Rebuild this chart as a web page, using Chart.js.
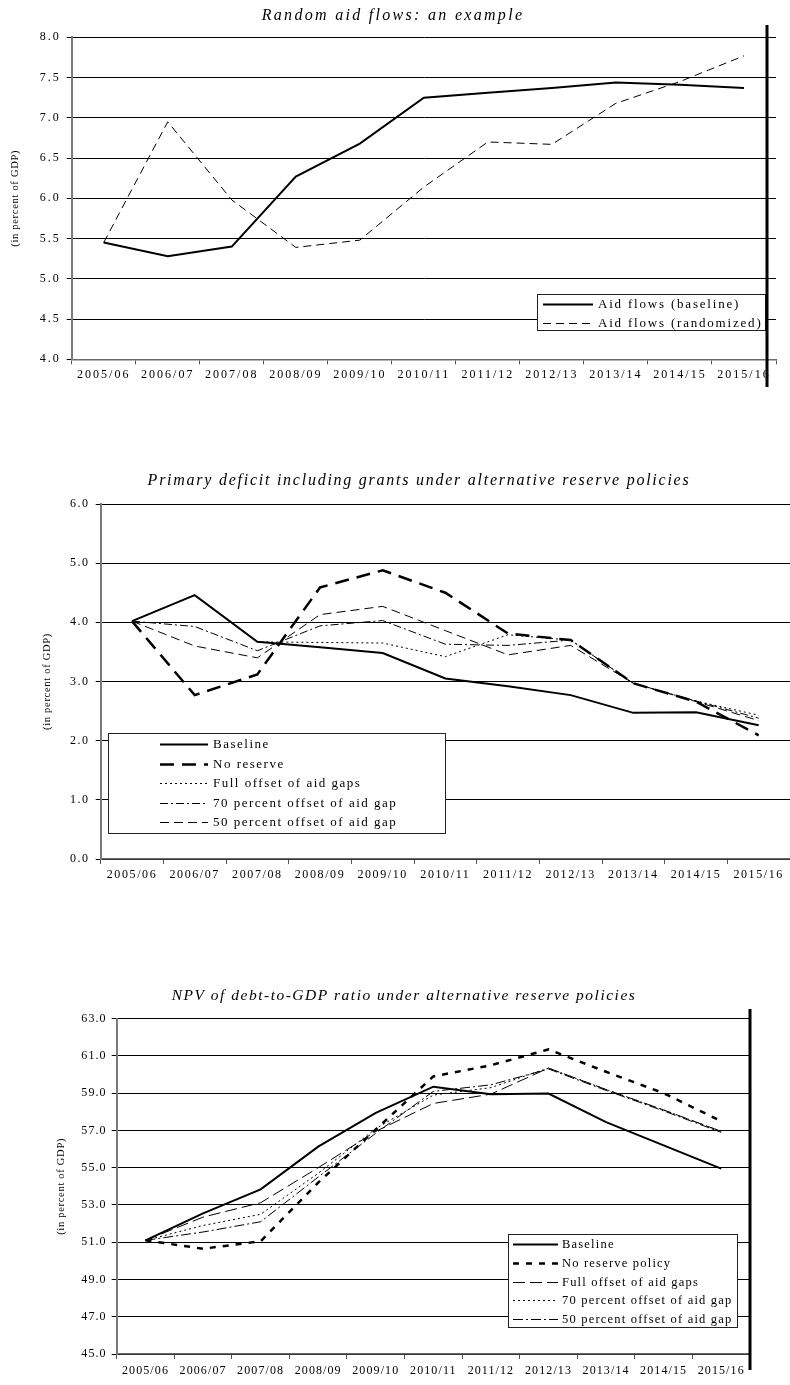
<!DOCTYPE html>
<html>
<head>
<meta charset="utf-8">
<title>Aid flows, primary deficit and debt under alternative reserve policies</title>
<script src="https://cdn.jsdelivr.net/npm/chart.js@4.4.1/dist/chart.umd.min.js"></script>
<style>
  html, body { margin: 0; padding: 0; background: #fff; }
  .panel { position: absolute; left: 0; width: 790px; }
  .panel canvas { display: block; }
</style>
</head>
<body>
<div class="panel" style="top:0;height:400px"><canvas id="aidChart" width="790" height="400"></canvas></div>
<div class="panel" style="top:440px;height:450px"><canvas id="deficitChart" width="790" height="450"></canvas></div>
<div class="panel" style="top:960px;height:425px"><canvas id="debtChart" width="790" height="425"></canvas></div>

<script>
// Fiscal years on the horizontal axis
const periods = ['2005/06', '2006/07', '2007/08', '2008/09', '2009/10', '2010/11',
                 '2011/12', '2012/13', '2013/14', '2014/15', '2015/16'];

// Aid flows, in percent of GDP
const aidBaseline   = [5.45, 5.28, 5.40, 6.27, 6.68, 7.25, 7.31, 7.37, 7.44, 7.41, 7.37];
const aidRandomized = [5.45, 6.95, 5.98, 5.39, 5.48, 6.14, 6.70, 6.67, 7.18, 7.45, 7.77];

// Primary deficit including grants, in percent of GDP
const deficitBaseline  = [4.02, 4.46, 3.67, 3.58, 3.48, 3.05, 2.92, 2.77, 2.47, 2.48, 2.26];
const deficitNoReserve = [4.02, 2.77, 3.12, 4.59, 4.88, 4.50, 3.81, 3.70, 2.97, 2.66, 2.09];
const deficitFull      = [4.02, 4.46, 3.67, 3.66, 3.65, 3.42, 3.79, 3.70, 2.97, 2.67, 2.43];
const deficit70        = [4.02, 3.93, 3.52, 3.94, 4.03, 3.63, 3.61, 3.70, 2.97, 2.67, 2.38];
const deficit50        = [4.02, 3.60, 3.40, 4.13, 4.27, 3.86, 3.45, 3.61, 2.97, 2.66, 2.34];

// NPV of debt-to-GDP ratio, in percent
const debtBaseline  = [51.1, 52.55, 53.84, 56.13, 57.95, 59.35, 58.94, 58.98, 57.45, 56.20, 54.95];
const debtNoReserve = [51.1, 50.65, 51.05, 54.20, 57.05, 59.90, 60.50, 61.35, 60.15, 59.00, 57.50];
const debtFull      = [51.1, 52.35, 53.12, 55.00, 56.95, 58.45, 58.95, 60.35, 59.20, 58.10, 56.95];
const debt70        = [51.1, 51.90, 52.50, 54.70, 57.10, 58.90, 59.30, 60.35, 59.20, 58.10, 56.95];
const debt50        = [51.1, 51.55, 52.10, 54.50, 56.85, 59.10, 59.45, 60.30, 59.15, 58.05, 56.90];

// Axis ranges
const aidAxis     = { min: 4, max: 8, step: 0.5 };
const deficitAxis = { min: 0, max: 6, step: 1 };
const debtAxis    = { min: 45, max: 63, step: 2 };

const yAxisTitle = '(in percent of GDP)';

Chart.defaults.font.family = "'Liberation Serif', 'Times New Roman', serif";
Chart.defaults.color = '#000';

function series(label, data, width, dash) {
  return {
    label, data,
    borderColor: '#000',
    backgroundColor: '#000',
    borderWidth: width,
    borderDash: dash,
    borderCapStyle: 'butt',
    borderJoinStyle: 'miter',
    pointRadius: 0,
    pointHoverRadius: 0,
    fill: false,
    tension: 0
  };
}

// Heading, rotated axis caption, boxed key and the heavy vertical rule
function framePlugin(f) {
  return {
    id: 'frame',
    beforeDraw(chart) {
      chart.ctx.letterSpacing = f.tickSpacing + 'px';
    },
    afterDatasetsDraw(chart) {
      const ctx = chart.ctx;
      const k = f.key;
      ctx.save();
      ctx.fillStyle = '#fff';
      ctx.fillRect(k.left, k.top, k.right - k.left, k.bottom - k.top);
      ctx.strokeStyle = '#222';
      ctx.lineWidth = 1;
      ctx.setLineDash([]);
      ctx.strokeRect(Math.round(k.left) + 0.5, Math.round(k.top) + 0.5,
                     Math.round(k.right - k.left), Math.round(k.bottom - k.top));
      ctx.font = k.font;
      ctx.letterSpacing = k.spacing + 'px';
      ctx.textAlign = 'left';
      ctx.textBaseline = 'middle';
      chart.data.datasets.forEach((ds, i) => {
        const y = Math.round(k.firstRow + i * k.rowGap) + 0.5;
        ctx.beginPath();
        ctx.setLineDash(ds.borderDash || []);
        ctx.lineWidth = ds.borderWidth;
        ctx.strokeStyle = ds.borderColor;
        ctx.moveTo(k.lineFrom, y);
        ctx.lineTo(k.lineTo, y);
        ctx.stroke();
        ctx.setLineDash([]);
        ctx.fillStyle = '#000';
        ctx.fillText(ds.label, k.textX, y);
      });
      ctx.restore();
    },
    afterDraw(chart) {
      const ctx = chart.ctx;
      const area = chart.chartArea;
      ctx.save();
      ctx.fillStyle = '#000';
      ctx.font = f.heading.font;
      ctx.letterSpacing = f.heading.spacing + 'px';
      ctx.textAlign = 'center';
      ctx.textBaseline = 'alphabetic';
      ctx.fillText(f.heading.text, f.heading.x, f.heading.y);
      ctx.restore();

      ctx.save();
      ctx.fillStyle = '#000';
      ctx.translate(f.side.x, (area.top + area.bottom) / 2);
      ctx.rotate(-Math.PI / 2);
      ctx.font = f.side.font;
      ctx.letterSpacing = f.side.spacing + 'px';
      ctx.textAlign = 'center';
      ctx.textBaseline = 'middle';
      ctx.fillText(yAxisTitle, 0, 0);
      ctx.restore();

      if (f.rule) {
        ctx.save();
        ctx.strokeStyle = '#000';
        ctx.lineWidth = f.rule.width;
        ctx.beginPath();
        ctx.moveTo(f.rule.x, f.rule.top);
        ctx.lineTo(f.rule.x, f.rule.bottom);
        ctx.stroke();
        ctx.restore();
      }
    }
  };
}

function buildPanel(id, spec) {
  return new Chart(document.getElementById(id), {
    type: 'line',
    data: { labels: periods, datasets: spec.datasets },
    options: {
      responsive: false,
      animation: false,
      events: [],
      layout: { padding: spec.padding },
      plugins: {
        legend: { display: false },
        title: { display: false },
        tooltip: { enabled: false }
      },
      scales: {
        x: {
          type: 'category',
          offset: true,
          grid: { offset: true, drawOnChartArea: false, drawTicks: true, tickLength: 5, color: '#555', lineWidth: 1 },
          border: { color: '#6a6a6a', width: 1.5 },
          ticks: { autoSkip: false, maxRotation: 0, minRotation: 0, padding: spec.xPad, font: { size: 12 }, color: '#000' },
          afterFit(scale) { scale.height = spec.xHeight; }
        },
        y: {
          min: spec.axis.min,
          max: spec.axis.max,
          grid: { color: '#000', lineWidth: 1, drawTicks: true, tickLength: 5 },
          border: { color: '#7a7a7a', width: 2 },
          ticks: {
            stepSize: spec.axis.step,
            padding: spec.yPad,
            font: { size: 12 },
            color: '#000',
            callback: v => Number(v).toFixed(1)
          },
          afterFit(scale) { scale.width = spec.yWidth; }
        }
      }
    },
    plugins: [framePlugin(spec.frame)]
  });
}

buildPanel('aidChart', {
  axis: aidAxis,
  datasets: [
    series('Aid flows (baseline)', aidBaseline, 2, []),
    series('Aid flows (randomized)', aidRandomized, 1, [8, 5])
  ],
  padding: { left: 0, right: 14, top: 37.3, bottom: 15.7 },
  yWidth: 71.7, xHeight: 25, xPad: 3.5, yPad: 6,
  frame: {
    tickSpacing: 2.0,
    heading: { text: 'Random aid flows: an example', x: 393, y: 20, font: 'italic 16px "Liberation Serif", serif', spacing: 2.3 },
    side: { x: 15, font: '10.5px "Liberation Serif", serif', spacing: 0.7 },
    key: { left: 537, top: 294, right: 765, bottom: 330, firstRow: 304.3, rowGap: 18.4,
           lineFrom: 543, lineTo: 593, textX: 598, font: '13px "Liberation Serif", serif', spacing: 1.8 },
    rule: { x: 767, top: 25, bottom: 387, width: 3 }
  }
});

buildPanel('deficitChart', {
  axis: deficitAxis,
  datasets: [
    series('Baseline', deficitBaseline, 2, []),
    series('No reserve', deficitNoReserve, 2.5, [14, 8]),
    series('Full offset of aid gaps', deficitFull, 1, [2, 3]),
    series('70 percent offset of aid gap', deficit70, 1, [8, 3, 2, 3]),
    series('50 percent offset of aid gap', deficit50, 1, [9, 5])
  ],
  padding: { left: 0, right: 0, top: 64, bottom: 6 },
  yWidth: 100.7, xHeight: 25, xPad: 3.5, yPad: 6,
  frame: {
    tickSpacing: 1.6,
    heading: { text: 'Primary deficit including grants under alternative reserve policies', x: 419, y: 45, font: 'italic 16px "Liberation Serif", serif', spacing: 1.75 },
    side: { x: 47, font: '10.5px "Liberation Serif", serif', spacing: 0.7 },
    key: { left: 108, top: 293, right: 445, bottom: 393, firstRow: 304.3, rowGap: 19.5,
           lineFrom: 160, lineTo: 208, textX: 213, font: '13px "Liberation Serif", serif', spacing: 1.5 },
    rule: null
  }
});

buildPanel('debtChart', {
  axis: debtAxis,
  datasets: [
    series('Baseline', debtBaseline, 2, []),
    series('No reserve policy', debtNoReserve, 2.5, [6, 7]),
    series('Full offset of aid gaps', debtFull, 1, [12, 5]),
    series('70 percent offset of aid gap', debt70, 1, [2, 3]),
    series('50 percent offset of aid gap', debt50, 1, [10, 3, 2, 3])
  ],
  padding: { left: 0, right: 40, top: 58.7, bottom: 6 },
  yWidth: 116.7, xHeight: 25, xPad: 5, yPad: 5,
  frame: {
    tickSpacing: 1.1,
    heading: { text: 'NPV of debt-to-GDP ratio under alternative reserve policies', x: 404, y: 40, font: 'italic 15.5px "Liberation Serif", serif', spacing: 1.5 },
    side: { x: 61, font: '10.5px "Liberation Serif", serif', spacing: 0.7 },
    key: { left: 508, top: 274, right: 737, bottom: 367, firstRow: 284, rowGap: 18.8,
           lineFrom: 513, lineTo: 558, textX: 562, font: '12.5px "Liberation Serif", serif', spacing: 1.2 },
    rule: { x: 750, top: 49, bottom: 410, width: 3 }
  }
});
</script>
</body>
</html>
